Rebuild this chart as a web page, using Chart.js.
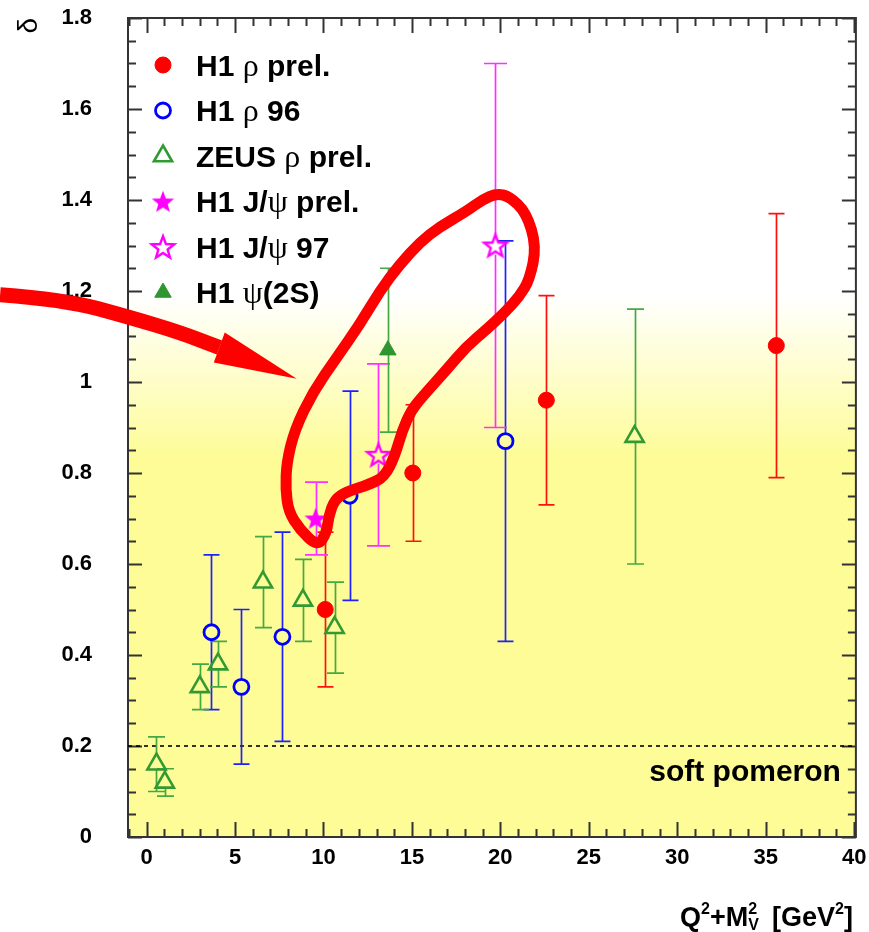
<!DOCTYPE html>
<html>
<head>
<meta charset="utf-8">
<script src="https://cdn.jsdelivr.net/npm/chart.js@4.4.1/dist/chart.umd.min.js"></script>
<style>
  html, body { margin: 0; padding: 0; background: #fff; }
</style>
</head>
<body>
<canvas id="deltaChart" width="869" height="932"></canvas>
<script>
// delta vs Q^2+M_V^2 for vector meson photo/electroproduction
const FONT = "'Liberation Sans', Arial, Helvetica, sans-serif";
const GREEK_FONT = "'Liberation Serif', 'DejaVu Serif', serif";

const xTicks = [0, 5, 10, 15, 20, 25, 30, 35, 40];
const yTicks = [0, 0.2, 0.4, 0.6, 0.8, 1, 1.2, 1.4, 1.6, 1.8];

// H1 rho prel.
const h1RhoPrelX = [10.1, 15.05, 22.6, 35.6];
const h1RhoPrelY = [0.50, 0.80, 0.96, 1.08];
const h1RhoPrelErr = [0.17, 0.15, 0.23, 0.29];

// H1 rho 96
const h1Rho96X = [3.67, 5.36, 7.68, 11.48, 20.29];
const h1Rho96Y = [0.45, 0.33, 0.44, 0.75, 0.87];
const h1Rho96Err = [0.17, 0.17, 0.23, 0.23, 0.44];

// ZEUS rho prel.
const zeusRhoX = [0.56, 1.03, 3.01, 4.04, 6.58, 8.84, 10.63, 27.59];
const zeusRhoY = [0.16, 0.12, 0.33, 0.38, 0.56, 0.52, 0.46, 0.88];
const zeusRhoErr = [0.06, 0.03, 0.05, 0.05, 0.10, 0.09, 0.10, 0.28];

// H1 J/psi prel.
const h1JpsiPrelX = [9.56];
const h1JpsiPrelY = [0.70];
const h1JpsiPrelErr = [0.08];

// H1 J/psi 97
const h1Jpsi97X = [13.11, 19.72];
const h1Jpsi97Y = [0.84, 1.30];
const h1Jpsi97Err = [0.20, 0.40];

// H1 psi(2S)
const h1Psi2sX = [13.64];
const h1Psi2sY = [1.07];
const h1Psi2sErr = [0.18];

const softPomeron = 0.2;

// hand-drawn marks on top of the plot, in axis units
const loopPath = [
    [9.67, 0.638], [10.18, 0.669], [10.29, 0.704], [10.63, 0.742], [11.31, 0.759],
    [12.61, 0.775], [13.46, 0.792], [14.02, 0.836], [14.47, 0.895], [14.98, 0.939],
    [15.60, 0.968], [16.96, 1.027], [18.08, 1.078], [19.21, 1.115], [20.23, 1.152],
    [21.08, 1.188], [21.65, 1.225], [22.04, 1.298], [21.47, 1.372], [20.51, 1.408],
    [19.78, 1.414], [18.99, 1.401], [18.09, 1.375], [16.56, 1.341], [15.43, 1.306],
    [14.30, 1.258], [13.17, 1.199], [12.04, 1.126], [10.75, 1.054], [9.39, 0.977],
    [8.37, 0.895], [7.92, 0.823], [7.86, 0.764], [8.03, 0.715], [8.66, 0.676]
];
const arrowShaft = [[-8.28, 1.192], [-4.61, 1.181], [-0.94, 1.142], [1.88, 1.109], [4.12, 1.076]];
const arrowHead = [[4.42, 1.109], [8.49, 1.007], [3.80, 1.043]];

function toPoints(xs, ys, errs) {
    return xs.map((x, i) => ({x: x, y: ys[i], err: errs[i]}));
}

function makeStar(filled) {
    const size = 30, c = size / 2, outer = 11.8, inner = 4.9;
    const cv = document.createElement('canvas');
    cv.width = cv.height = size;
    const g = cv.getContext('2d');
    g.beginPath();
    for (let i = 0; i < 10; i++) {
        const r = i % 2 ? inner : outer;
        const a = -Math.PI / 2 + i * Math.PI / 5;
        g.lineTo(c + r * Math.cos(a), c + 1 + r * Math.sin(a));
    }
    g.closePath();
    if (filled) {
        g.fillStyle = '#ff00ff';
        g.fill();
    } else {
        g.strokeStyle = '#ff00ff';
        g.lineWidth = 2.4;
        g.stroke();
    }
    return cv;
}

const filledStar = makeStar(true);
const openStar = makeStar(false);

const NONE = 'rgba(0,0,0,0)';

const datasets = [
    {
        label: 'H1 ρ prel.',
        data: toPoints(h1RhoPrelX, h1RhoPrelY, h1RhoPrelErr),
        pointStyle: 'circle', pointRadius: 8, pointBorderWidth: 1,
        pointBackgroundColor: '#ff0000', pointBorderColor: '#ff0000',
        errorBar: {color: '#ff1010', cap: 16, gapUp: 0, gapDown: 0}
    },
    {
        label: 'H1 ρ 96',
        data: toPoints(h1Rho96X, h1Rho96Y, h1Rho96Err),
        pointStyle: 'circle', pointRadius: 7.5, pointBorderWidth: 2.8,
        pointBackgroundColor: NONE, pointBorderColor: '#0000ff',
        errorBar: {color: '#2020ff', cap: 16, gapUp: 8, gapDown: 8}
    },
    {
        label: 'ZEUS ρ prel.',
        data: toPoints(zeusRhoX, zeusRhoY, zeusRhoErr),
        pointStyle: 'triangle', pointRadius: 10.5, pointBorderWidth: 2.6,
        pointBackgroundColor: NONE, pointBorderColor: '#339933',
        errorBar: {color: '#44a844', cap: 17, gapUp: 10, gapDown: 5}
    },
    {
        label: 'H1 J/ψ prel.',
        data: toPoints(h1JpsiPrelX, h1JpsiPrelY, h1JpsiPrelErr),
        pointStyle: filledStar, pointRadius: 11,
        errorBar: {color: '#ff30ff', cap: 23, gapUp: 0, gapDown: 0}
    },
    {
        label: 'H1 J/ψ 97',
        data: toPoints(h1Jpsi97X, h1Jpsi97Y, h1Jpsi97Err),
        pointStyle: openStar, pointRadius: 11,
        errorBar: {color: '#ff30ff', cap: 23, gapUp: 10, gapDown: 9}
    },
    {
        label: 'H1 ψ(2S)',
        data: toPoints(h1Psi2sX, h1Psi2sY, h1Psi2sErr),
        pointStyle: 'triangle', pointRadius: 9.5, pointBorderWidth: 1,
        pointBackgroundColor: '#2f962f', pointBorderColor: '#2f962f',
        errorBar: {color: '#44a844', cap: 17, gapUp: 0, gapDown: 0}
    }
];

// white-to-yellow fill behind the data
const backgroundPlugin = {
    id: 'plotBackground',
    beforeDraw(chart, args, opts) {
        const {ctx, chartArea: {left, top, right, bottom}, scales: {y}} = chart;
        const h = bottom - top;
        const g = ctx.createLinearGradient(0, top, 0, bottom);
        g.addColorStop(0, '#ffffff');
        g.addColorStop((y.getPixelForValue(opts.whiteTo) - top) / h, '#ffffff');
        g.addColorStop((y.getPixelForValue(opts.yellowFrom) - top) / h, opts.color);
        g.addColorStop(1, opts.color);
        ctx.save();
        ctx.fillStyle = g;
        ctx.fillRect(left, top, right - left, bottom - top);
        ctx.restore();
    }
};

// frame with inward ticks on all four sides, plus the dashed reference line
const framePlugin = {
    id: 'frame',
    beforeDatasetsDraw(chart, args, opts) {
        const {ctx, chartArea: {left, top, right, bottom}, scales: {x, y}} = chart;
        ctx.save();
        ctx.strokeStyle = '#333';
        ctx.lineWidth = 2;
        ctx.beginPath();
        for (let v = Math.ceil(x.min); v <= x.max; v += 1) {
            const px = Math.round(x.getPixelForValue(v)) + 0.5;
            const len = v % 5 === 0 ? 15 : 8;
            ctx.moveTo(px, bottom); ctx.lineTo(px, bottom - len);
            ctx.moveTo(px, top); ctx.lineTo(px, top + len);
        }
        for (let i = 0; i * 0.05 <= y.max + 1e-9; i++) {
            const py = Math.round(y.getPixelForValue(i * 0.05)) + 0.5;
            const len = i % 4 === 0 ? 14 : 8;
            ctx.moveTo(left, py); ctx.lineTo(left + len, py);
            ctx.moveTo(right, py); ctx.lineTo(right - len, py);
        }
        ctx.stroke();
        ctx.strokeRect(left, top, right - left, bottom - top);

        const py = y.getPixelForValue(opts.dashedAt);
        ctx.strokeStyle = '#000';
        ctx.lineWidth = 1.6;
        ctx.setLineDash([4, 4]);
        ctx.beginPath();
        ctx.moveTo(left, py);
        ctx.lineTo(right, py);
        ctx.stroke();
        ctx.restore();
    }
};

const errorBarPlugin = {
    id: 'errorBars',
    beforeDatasetsDraw(chart) {
        const {ctx, scales: {x, y}} = chart;
        chart.data.datasets.forEach((ds) => {
            const eb = ds.errorBar;
            ctx.save();
            ctx.strokeStyle = eb.color;
            ctx.lineWidth = 1.7;
            ds.data.forEach((p) => {
                const px = Math.round(x.getPixelForValue(p.x)) + 0.5;
                const py = y.getPixelForValue(p.y);
                const hi = y.getPixelForValue(p.y + p.err);
                const lo = y.getPixelForValue(p.y - p.err);
                ctx.beginPath();
                ctx.moveTo(px, hi); ctx.lineTo(px, py - eb.gapUp);
                ctx.moveTo(px, py + eb.gapDown); ctx.lineTo(px, lo);
                ctx.moveTo(px - eb.cap / 2, hi); ctx.lineTo(px + eb.cap / 2, hi);
                ctx.moveTo(px - eb.cap / 2, lo); ctx.lineTo(px + eb.cap / 2, lo);
                ctx.stroke();
            });
            ctx.restore();
        });
    }
};

// text with greek letters in a symbol-like face
function drawMixed(ctx, text, x, y, size) {
    const runs = [];
    for (const ch of text) {
        const greek = ch >= '\u0370' && ch <= '\u03ff';
        if (runs.length && runs[runs.length - 1].greek === greek) runs[runs.length - 1].s += ch;
        else runs.push({s: ch, greek: greek});
    }
    let cx = x;
    runs.forEach((r) => {
        ctx.font = r.greek ? (size + 2) + 'px ' + GREEK_FONT : 'bold ' + size + 'px ' + FONT;
        ctx.fillText(r.s, cx, y);
        cx += ctx.measureText(r.s).width;
    });
}

const legendPlugin = {
    id: 'boxLegend',
    afterDatasetsDraw(chart, args, opts) {
        const {ctx, chartArea: {left, top}} = chart;
        ctx.save();
        ctx.fillStyle = '#000';
        ctx.textBaseline = 'alphabetic';
        chart.data.datasets.forEach((ds, i) => {
            const cy = top + opts.firstRow + i * opts.rowStep;
            const mx = left + opts.markerX;
            ctx.save();
            ctx.fillStyle = ds.pointBackgroundColor || '#000';
            ctx.strokeStyle = ds.pointBorderColor || '#000';
            ctx.lineWidth = ds.pointBorderWidth || 1;
            Chart.helpers.drawPoint(ctx, {
                pointStyle: ds.pointStyle,
                radius: ds.pointRadius,
                borderWidth: ds.pointBorderWidth || 0,
                rotation: 0
            }, mx, cy);
            ctx.restore();
            ctx.fillStyle = '#000';
            drawMixed(ctx, ds.label, left + opts.textX, cy + 10.5, 30);
        });
        ctx.restore();
    }
};

function smoothPath(ctx, pts, closed) {
    const mid = (a, b) => [(a[0] + b[0]) / 2, (a[1] + b[1]) / 2];
    const n = pts.length;
    ctx.beginPath();
    if (closed) {
        const s = mid(pts[n - 1], pts[0]);
        ctx.moveTo(s[0], s[1]);
        for (let i = 0; i < n; i++) {
            const m = mid(pts[i], pts[(i + 1) % n]);
            ctx.quadraticCurveTo(pts[i][0], pts[i][1], m[0], m[1]);
        }
        ctx.closePath();
    } else {
        ctx.moveTo(pts[0][0], pts[0][1]);
        for (let i = 1; i < n - 1; i++) {
            const m = mid(pts[i], pts[i + 1]);
            ctx.quadraticCurveTo(pts[i][0], pts[i][1], m[0], m[1]);
        }
        ctx.lineTo(pts[n - 1][0], pts[n - 1][1]);
    }
}

const labelsPlugin = {
    id: 'plotLabels',
    afterDraw(chart) {
        const {ctx, chartArea: {right}, scales: {x, y}} = chart;
        const toPx = (p) => [x.getPixelForValue(p[0]), y.getPixelForValue(p[1])];
        ctx.save();

        ctx.fillStyle = '#000';
        ctx.font = 'bold 30px ' + FONT;
        ctx.textAlign = 'right';
        ctx.fillText('soft pomeron', right - 15, y.getPixelForValue(softPomeron) + 35);

        // x axis title: Q^2+M_V^2 [GeV^2]
        const big = 'bold 27px ' + FONT, small = 'bold 16px ' + FONT;
        const base = 926;
        const parts = [
            ['Q', big, 0], ['2', small, -12], ['+M', big, 0], ['2', small, -12, 'V'],
            ['  [GeV', big, 0], ['2', small, -12], [']', big, 0]
        ];
        let w = 0;
        parts.forEach((p) => { ctx.font = p[1]; w += ctx.measureText(p[0]).width; });
        let cx = 853 - w;
        ctx.textAlign = 'left';
        parts.forEach((p) => {
            ctx.font = p[1];
            ctx.fillText(p[0], cx, base + p[2]);
            if (p[3]) ctx.fillText(p[3], cx, base + 4);
            cx += ctx.measureText(p[0]).width;
        });

        // y axis title
        ctx.save();
        ctx.translate(37, 18);
        ctx.rotate(-Math.PI / 2);
        ctx.textAlign = 'right';
        ctx.font = '28px ' + FONT;
        ctx.fillText('δ', 0, 0);
        ctx.restore();

        // red freehand loop and arrow
        ctx.strokeStyle = '#ff0000';
        ctx.fillStyle = '#ff0000';
        ctx.lineJoin = 'round';
        ctx.lineCap = 'round';
        ctx.lineWidth = 11;
        smoothPath(ctx, loopPath.map(toPx), true);
        ctx.stroke();

        ctx.lineCap = 'butt';
        ctx.lineWidth = 15;
        smoothPath(ctx, arrowShaft.map(toPx), false);
        ctx.stroke();
        const head = arrowHead.map(toPx);
        ctx.beginPath();
        ctx.moveTo(head[0][0], head[0][1]);
        ctx.lineTo(head[1][0], head[1][1]);
        ctx.lineTo(head[2][0], head[2][1]);
        ctx.closePath();
        ctx.fill();
        ctx.restore();
    }
};

const fmt = (v) => String(Number(v.toFixed(2)));

new Chart(document.getElementById('deltaChart').getContext('2d'), {
    type: 'scatter',
    data: {datasets: datasets},
    options: {
        responsive: false,
        animation: false,
        events: [],
        layout: {padding: {top: 18, right: 12, left: 0, bottom: 0}},
        scales: {
            x: {
                type: 'linear',
                min: -1.05,
                max: 40.1,
                afterBuildTicks: (s) => { s.ticks = xTicks.map((v) => ({value: v})); },
                afterFit: (s) => { s.height = 95; s.paddingLeft = 0; s.paddingRight = 0; },
                grid: {display: false, drawTicks: false},
                border: {display: false},
                ticks: {
                    padding: 8,
                    color: '#000',
                    font: {family: FONT, size: 22, weight: 'bold'},
                    callback: fmt
                }
            },
            y: {
                type: 'linear',
                min: 0,
                max: 1.8,
                afterBuildTicks: (s) => { s.ticks = yTicks.map((v) => ({value: v})); },
                afterFit: (s) => { s.width = 128; s.paddingTop = 0; s.paddingBottom = 0; },
                grid: {display: false, drawTicks: false},
                border: {display: false},
                ticks: {
                    padding: 36,
                    color: '#000',
                    font: {family: FONT, size: 22, weight: 'bold'},
                    callback: fmt
                }
            }
        },
        plugins: {
            legend: {display: false},
            tooltip: {enabled: false},
            plotBackground: {whiteTo: 1.19, yellowFrom: 0.83, color: '#fdfc96'},
            frame: {dashedAt: softPomeron},
            boxLegend: {markerX: 35, textX: 68, firstRow: 47, rowStep: 45.5}
        }
    },
    plugins: [backgroundPlugin, framePlugin, errorBarPlugin, legendPlugin, labelsPlugin]
});
</script>
</body>
</html>
